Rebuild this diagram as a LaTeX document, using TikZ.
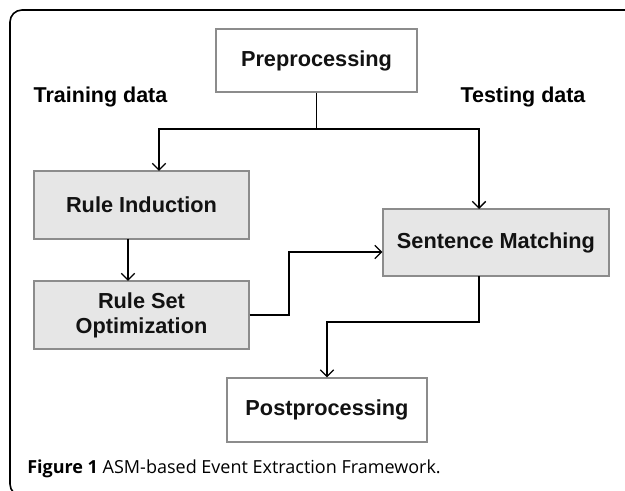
\documentclass[tikz,border=0pt]{standalone}
\usepackage{fontspec}
\usepackage{tikz}
\usetikzlibrary{arrows.meta}
\newfontfamily\arialfont{Liberation Sans}
\newfontfamily\captionfont{Open Sans}
\definecolor{boxgray}{HTML}{E6E6E6}
\definecolor{edgegray}{HTML}{8C8C8C}
\tikzset{every picture/.style={x=0.75pt,y=-0.75pt}}
\tikzset{
  stage/.style={draw=edgegray, line width=0.8pt, inner sep=0pt, align=center,
    font=\arialfont\bfseries\fontsize{16.3}{18.75}\selectfont, text=black!93},
  stagewhite/.style={stage, fill=white},
  stagegray/.style={stage, fill=boxgray},
  flow/.style={line width=1pt, -{Straight Barb[length=5pt,width=10pt]}},
  link/.style={line width=1pt},
  sidelabel/.style={font=\arialfont\bfseries\fontsize{16.1}{18.75}\selectfont}
}

\begin{document}
\begin{tikzpicture}
        \useasboundingbox (0,0) rectangle (625,491);
        \clip (0,0) rectangle (625,491);

        % Frame round the figure
        \draw[line width=1.2pt, rounded corners=9] (660,10) -- (10,10) -- (10,496) -- (660,496);

        % Stages
        \node[stagewhite, minimum width=150.75pt, minimum height=47.25pt] (pre) at (316.5,60.5) {Preprocessing};
        \node[stagegray, minimum width=161.25pt, minimum height=51pt] (ri) at (141.5,205) {Rule Induction};
        \node[stagegray, minimum width=161.25pt, minimum height=51pt] (rso) at (141.5,315) {Rule Set\\Optimization};
        \node[stagegray, minimum width=169.5pt, minimum height=50.25pt] (sm) at (496,242.5) {Sentence Matching};
        \node[stagewhite, minimum width=150pt, minimum height=48pt] (post) at (327,410) {Postprocessing};

        % Side labels
        \node[sidelabel] (train) at (100.5,97) {Training data};
        \node[sidelabel] (test) at (523,97) {Testing data};

        % Points where the connectors meet the boxes
        \coordinate (split) at (316.5,129);
        \coordinate (riin) at (159,171);
        \coordinate (riout) at (128,239);
        \coordinate (rsoin) at (128,281);
        \coordinate (smin) at (479,209);
        \coordinate (smout) at (479,276);
        \coordinate (bend) at (289,252);

        % Connectors
        \draw[link] (pre.south) -- (split);
        \draw[flow] (split) -| (riin);
        \draw[flow] (split) -| (smin);
        \draw[flow] (riout) -- (rsoin);
        \draw[flow] (rso.east) -| (bend) -- (bend -| sm.west);
        \draw[flow] (smout) |- (327,322) -- (post.north);

        % Caption
        \node[anchor=base west, inner sep=0pt, font=\captionfont\fontsize{13.5}{16}\selectfont] (caption) at (27,474)
          {\textbf{Figure 1} ASM-based Event Extraction Framework.};
\end{tikzpicture}
\end{document}
